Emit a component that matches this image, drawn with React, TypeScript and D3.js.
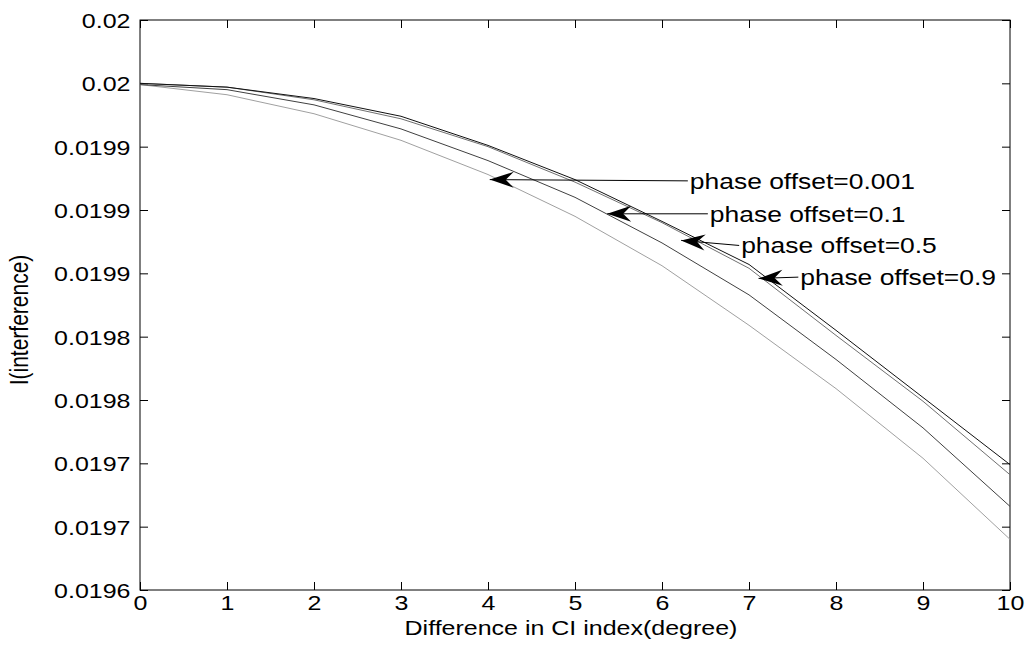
import React, { useEffect, useRef } from 'react';
import * as d3 from 'd3';

// x = difference in CI index (degree)
const xValues = [0, 1, 2, 3, 4, 5, 6, 7, 8, 9, 10];
const phase09 = [0.020000, 0.019997, 0.019988, 0.019974, 0.019951, 0.019924, 0.019891, 0.019857, 0.019805, 0.019752, 0.019699];
const phase05 = [0.020000, 0.019997, 0.019987, 0.019972, 0.019950, 0.019922, 0.019890, 0.019854, 0.019801, 0.019749, 0.019691];
const phase01 = [0.019999, 0.019995, 0.019983, 0.019964, 0.019939, 0.019910, 0.019874, 0.019833, 0.019782, 0.019728, 0.019666];
const phase0001 = [0.019999, 0.019991, 0.019976, 0.019955, 0.019928, 0.019895, 0.019856, 0.019809, 0.019759, 0.019704, 0.019640];

const yTickValues = [0.0196, 0.01965, 0.0197, 0.01975, 0.0198, 0.01985, 0.0199, 0.01995, 0.0200, 0.02005];
const yTickLabels = ['0.0196', '0.0197', '0.0197', '0.0198', '0.0198', '0.0199', '0.0199', '0.0199', '0.02', '0.02'];
const xTickLabels = ['0', '1', '2', '3', '4', '5', '6', '7', '8', '9', '10'];

const annotText = ['phase offset=0.001', 'phase offset=0.1', 'phase offset=0.5', 'phase offset=0.9'];
const annotTipX = [4.02, 5.37, 6.22, 7.11];
const annotTipY = [0.019924, 0.019897, 0.019876, 0.019846];
const annotTextX = [6.32, 6.55, 6.91, 7.59];
const annotTextY = [0.019923, 0.019897, 0.019872, 0.019847];

const FONT = '"Liberation Sans", Arial, sans-serif';
const SX = 1.19; // the reference text is stretched horizontally

export default function App() {
  const ref = useRef<SVGSVGElement>(null);

  useEffect(() => {
    const svg = d3.select(ref.current);
    svg.selectAll('*').remove();

    const margin = { top: 20, right: 16, bottom: 58, left: 140 };
    const width = 1026 - margin.left - margin.right;
    const height = 648 - margin.top - margin.bottom;

    const x = d3.scaleLinear().domain([0, 10]).range([0, width]);
    const y = d3.scaleLinear().domain([0.0196, 0.02005]).range([height, 0]);

    svg.append('rect').attr('width', 1026).attr('height', 648).attr('fill', '#fff');

    const g = svg.append('g').attr('transform', `translate(${margin.left},${margin.top})`);

    // box
    g.append('rect')
      .attr('width', width).attr('height', height)
      .attr('fill', 'none').attr('stroke', '#000').attr('stroke-width', 1);

    const styleAxis = (sel: any) => {
      sel.select('.domain').remove();
      sel.selectAll('.tick line').attr('stroke', '#000');
      sel.selectAll('text')
        .attr('font-family', FONT).attr('font-size', 21).attr('fill', '#000');
    };

    // bottom
    const xb = g.append('g').attr('transform', `translate(0,${height})`)
      .call(d3.axisBottom(x).tickValues(xValues)
        .tickFormat((d, i) => xTickLabels[i]).tickSizeInner(-8).tickSizeOuter(0).tickPadding(5));
    styleAxis(xb);
    xb.selectAll('text').attr('transform', `scale(${SX},1)`).attr('dy', '0.71em').attr('y', 5);

    // top
    const xt = g.append('g')
      .call(d3.axisTop(x).tickValues(xValues).tickFormat(() => '').tickSizeInner(-8).tickSizeOuter(0));
    styleAxis(xt);

    // left
    const yl = g.append('g')
      .call(d3.axisLeft(y).tickValues(yTickValues)
        .tickFormat((d, i) => yTickLabels[i]).tickSizeInner(-8).tickSizeOuter(0).tickPadding(8));
    styleAxis(yl);
    yl.selectAll('text').attr('transform', `scale(${SX},1)`).attr('dy', '0.36em');

    // right
    const yr = g.append('g').attr('transform', `translate(${width},0)`)
      .call(d3.axisRight(y).tickValues(yTickValues).tickFormat(() => '').tickSizeInner(-8).tickSizeOuter(0));
    styleAxis(yr);

    // lines
    const line = d3.line<number>()
      .x((d, i) => x(xValues[i]))
      .y(d => y(d));

    const series = [
      { values: phase0001, color: '#a0a0a0' },
      { values: phase01, color: '#404040' },
      { values: phase05, color: '#707070' },
      { values: phase09, color: '#101010' },
    ];
    series.forEach(s => {
      g.append('path')
        .attr('d', line(s.values))
        .attr('fill', 'none')
        .attr('stroke', s.color)
        .attr('stroke-width', 1);
    });

    // annotations
    annotText.forEach((t, i) => {
      const tx = x(annotTipX[i]);
      const ty = y(annotTipY[i]);
      const sx = x(annotTextX[i]);
      const sy = y(annotTextY[i]);
      const ang = Math.atan2(ty - sy, tx - sx) * 180 / Math.PI;
      g.append('line')
        .attr('x1', sx - 2).attr('y1', sy).attr('x2', tx).attr('y2', ty)
        .attr('stroke', '#000').attr('stroke-width', 1);
      g.append('path')
        .attr('d', 'M0,0 L-24,-8 L-16,0 L-24,8 Z')
        .attr('transform', `translate(${tx},${ty}) rotate(${ang})`)
        .attr('fill', '#000');
      g.append('text')
        .attr('transform', `translate(${sx},${sy}) scale(1.23,1)`)
        .attr('dy', '0.36em')
        .attr('font-family', FONT).attr('font-size', 21.5).attr('fill', '#000')
        .text(t);
    });

    // axis labels
    g.append('text')
      .attr('transform', `translate(${width / 2 - 4},${height + 45}) scale(${SX},1)`)
      .attr('text-anchor', 'middle')
      .attr('font-family', FONT).attr('font-size', 21).attr('fill', '#000')
      .text('Difference in CI index(degree)');

    g.append('text')
      .attr('transform', `translate(${28 - margin.left},${height / 2 + 15}) scale(${SX},1) rotate(-90)`)
      .attr('text-anchor', 'middle')
      .attr('font-family', FONT).attr('font-size', 21).attr('fill', '#000')
      .text('I(interference)');
  }, []);

  return (
    <svg ref={ref} width={1026} height={648}
      style={{ position: 'absolute', left: 0, top: 0, display: 'block' }} />
  );
}
